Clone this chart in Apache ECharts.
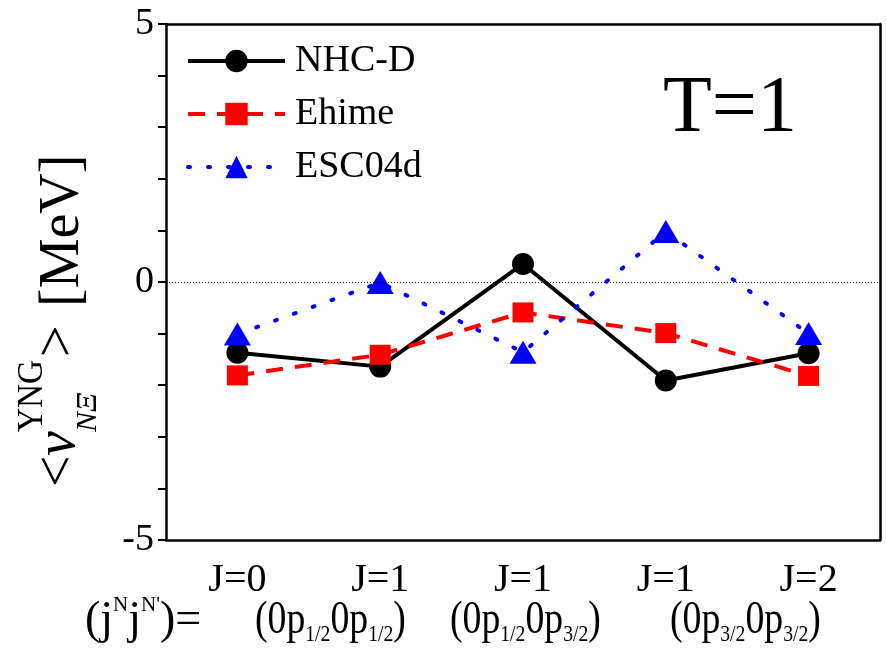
<!DOCTYPE html>
<html>
<head>
<meta charset="utf-8">
<script src="https://cdn.jsdelivr.net/npm/echarts@6/dist/echarts.min.js"></script>
<style>
  html, body { margin: 0; padding: 0; background: #fff; }
  #main { width: 886px; height: 654px; }
</style>
</head>
<body>
<div id="main"></div>
<script>
// data
var categories = ['J=0', 'J=1', 'J=1', 'J=1', 'J=2'];
var nhcd = [-1.37, -1.64, 0.35, -1.91, -1.38];
var ehime = [-1.81, -1.41, -0.59, -0.99, -1.82];
var esc04d = [-1.01, -0.01, -1.36, 0.98, -1.0];
var yTicks = [-5, 0, 5];

var serif = "'Liberation Serif', 'Times New Roman', serif";
var chart = echarts.init(document.getElementById('main'));

// orbital pair labels under the category axis
var pairRich = {
    a: { fontFamily: serif, fontSize: 46, lineHeight: 52, color: '#000', verticalAlign: 'middle' },
    s: { fontFamily: serif, fontSize: 24, lineHeight: 13, color: '#000', verticalAlign: 'bottom' }
};
function pairText(j1, j2) {
    return '{a|(0p}{s|' + j1 + '}{a|0p}{s|' + j2 + '}{a|)}';
}

var option = {
    animation: false,
    backgroundColor: '#fff',
    grid: { left: 166, right: 6, top: 24, bottom: 114 },
    legend: {
        orient: 'vertical',
        left: 181,
        top: 37,
        itemWidth: 97,
        itemHeight: 28,
        itemGap: 15,
        textStyle: { fontFamily: serif, fontSize: 38, lineHeight: 37, color: '#000', padding: [0, 0, 0, 5] },
        data: [
            { name: 'NHC-D', lineStyle: { width: 4 } },
            { name: 'Ehime', lineStyle: { width: 4 } },
            { name: 'ESC04d', lineStyle: { width: 4 } }
        ]
    },
    xAxis: [
        {
            type: 'category',
            data: categories,
            boundaryGap: true,
            axisLine: { onZero: false, lineStyle: { color: '#000', width: 2.5 } },
            axisTick: { alignWithLabel: true, length: 10, lineStyle: { color: '#000', width: 2 } },
            axisLabel: { fontFamily: serif, fontSize: 40, color: '#000', margin: 20 }
        },
        {
            type: 'category',
            position: 'top',
            data: categories,
            boundaryGap: true,
            axisLine: { onZero: false, lineStyle: { color: '#000', width: 2.5 } },
            axisTick: { alignWithLabel: true, inside: true, length: 8, lineStyle: { color: '#000', width: 2 } },
            axisLabel: { show: false }
        }
    ],
    yAxis: [
        {
            type: 'value',
            min: -5,
            max: 5,
            interval: 1,
            axisLine: { show: true, lineStyle: { color: '#000', width: 2.5 } },
            axisTick: { show: true, length: 8, lineStyle: { color: '#000', width: 2 } },
            splitLine: { show: false },
            axisLabel: {
                fontFamily: serif, fontSize: 38, color: '#000', margin: 12,
                formatter: function (v) { return yTicks.indexOf(v) >= 0 ? String(v) : ''; }
            }
        },
        {
            type: 'value',
            position: 'right',
            min: -5,
            max: 5,
            interval: 1,
            axisLine: { show: true, lineStyle: { color: '#000', width: 2.5 } },
            axisTick: { show: false },
            splitLine: { show: false },
            axisLabel: { show: false }
        }
    ],
    series: [
        {
            name: 'NHC-D',
            type: 'line',
            data: nhcd,
            symbol: 'circle',
            symbolSize: 22,
            itemStyle: { color: '#000' },
            lineStyle: { color: '#000', width: 4 },
            markLine: {
                silent: true,
                symbol: 'none',
                label: { show: false },
                lineStyle: { color: '#000', width: 1, type: [1, 2] },
                data: [{ yAxis: 0 }]
            }
        },
        {
            name: 'Ehime',
            type: 'line',
            data: ehime,
            symbol: 'rect',
            symbolSize: [21, 20],
            itemStyle: { color: '#ff0000' },
            lineStyle: { color: '#ff0000', width: 4, type: [17, 12] }
        },
        {
            name: 'ESC04d',
            type: 'line',
            data: esc04d,
            symbol: 'triangle',
            symbolSize: [27, 23],
            itemStyle: { color: '#0000ff' },
            lineStyle: { color: '#0000ff', width: 4, type: [2, 18], cap: 'round' }
        }
    ],
    graphic: [
        {
            type: 'text', x: 663, y: 110,
            style: { text: 'T=1', fontFamily: serif, fontSize: 80, fill: '#000', verticalAlign: 'middle' }
        },
        // y axis title, rotated
        {
            type: 'group', x: 82, y: 487, rotation: Math.PI / 2,
            children: [
                { type: 'text', x: 0, y: -23, style: { text: '<', fontFamily: serif, fontSize: 56, fill: '#000', verticalAlign: 'middle' } },
                { type: 'text', x: 31, y: -23, style: { text: 'ν', fontFamily: serif, fontStyle: 'italic', fontSize: 56, fill: '#000', verticalAlign: 'middle' } },
                { type: 'text', x: 55, y: -49, scaleX: 0.95, style: { text: 'YNG', fontFamily: serif, fontSize: 35, fill: '#000', verticalAlign: 'middle' } },
                { type: 'text', x: 55, y: 6, style: { text: 'NΞ', fontFamily: serif, fontStyle: 'italic', fontSize: 30, fill: '#000', verticalAlign: 'middle' } },
                { type: 'text', x: 130, y: -23, style: { text: '>', fontFamily: serif, fontSize: 56, fill: '#000', verticalAlign: 'middle' } },
                { type: 'text', x: 180, y: -19, style: { text: '[MeV]', fontFamily: serif, fontSize: 56, fill: '#000', verticalAlign: 'middle' } }
            ]
        },
        // second row of x labels
        {
            type: 'text', x: 85, y: 595,
            style: {
                text: '{a|(j}{n|N}{a|j}{n|N\'}{a|)=}',
                rich: {
                    a: { fontFamily: serif, fontSize: 46, lineHeight: 52, color: '#000', verticalAlign: 'middle' },
                    n: { fontFamily: serif, fontSize: 21, lineHeight: 30, color: '#000', verticalAlign: 'top' }
                }
            }
        },
        { type: 'text', x: 255, y: 595, scaleX: 0.82, style: { text: pairText('1/2', '1/2'), rich: pairRich } },
        { type: 'text', x: 450, y: 595, scaleX: 0.82, style: { text: pairText('1/2', '3/2'), rich: pairRich } },
        { type: 'text', x: 670, y: 595, scaleX: 0.82, style: { text: pairText('3/2', '3/2'), rich: pairRich } }
    ]
};

chart.setOption(option);
</script>
</body>
</html>
